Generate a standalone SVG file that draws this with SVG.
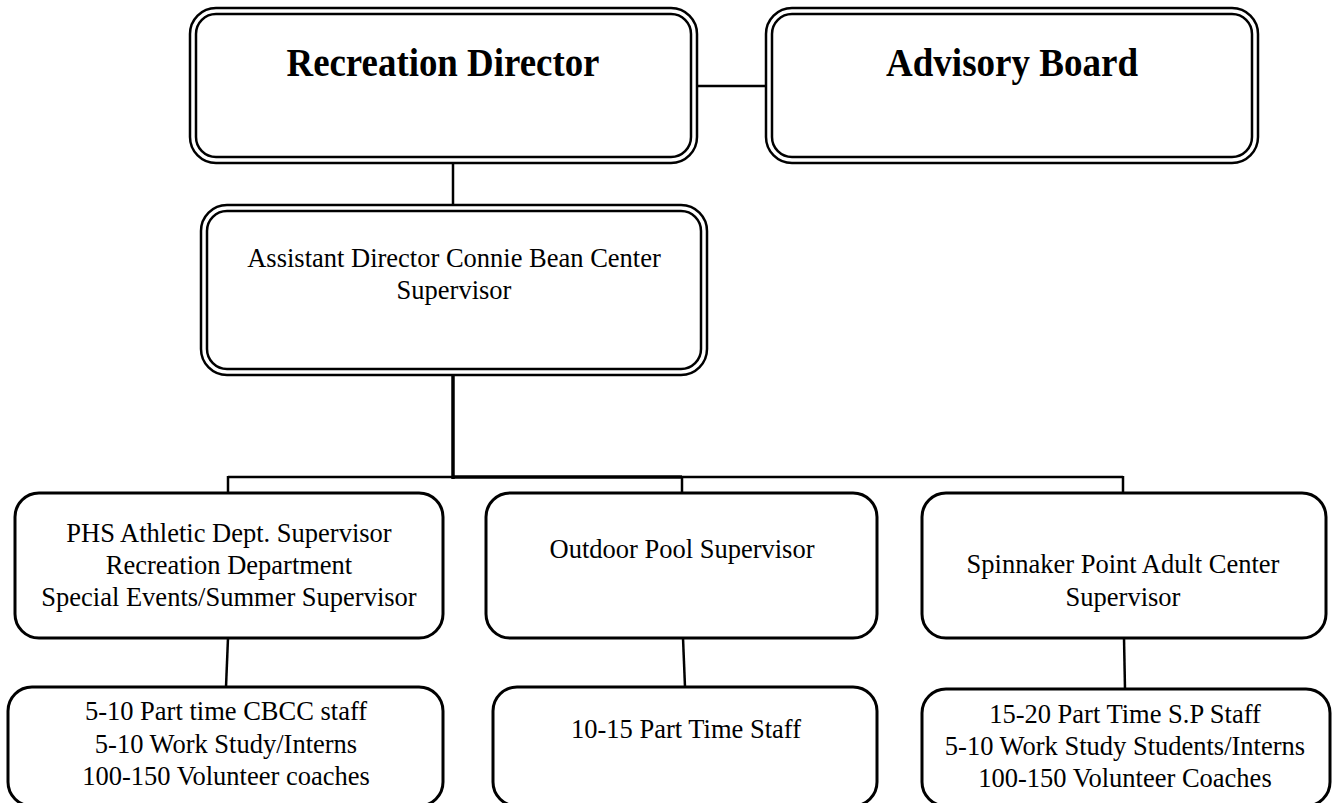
<svg xmlns="http://www.w3.org/2000/svg" width="1332" height="803" viewBox="0 0 1332 803">
<style>
.bg{fill:#ffffff}
.dbl{fill:none;stroke:#000;stroke-width:2.5}
.box{fill:#fff;stroke:#000;stroke-width:3}
.ln{fill:none;stroke:#000;stroke-width:2.5}
.thk{fill:none;stroke:#000;stroke-width:3.5}
.t{font-family:"Liberation Serif","Times New Roman",serif;font-size:26.5px;fill:#000;text-anchor:middle}
.b{font-family:"Liberation Serif","Times New Roman",serif;font-size:39px;font-weight:bold;fill:#000;text-anchor:middle}
</style>
<rect class="bg" x="0" y="0" width="1332" height="803"/>
<g id="connectors">
<line class="ln" x1="697" y1="86" x2="766" y2="86"/>
<line class="ln" x1="453" y1="163" x2="453" y2="205"/>
<line class="thk" x1="453" y1="375" x2="453" y2="479"/>
<line class="ln" x1="228" y1="477" x2="453" y2="477"/>
<line class="thk" x1="453" y1="477" x2="682" y2="477"/>
<line class="ln" x1="682" y1="477" x2="1123" y2="477"/>
<line class="ln" x1="228" y1="476" x2="228" y2="493"/>
<line class="ln" x1="682" y1="477" x2="682" y2="493"/>
<line class="ln" x1="1123" y1="476" x2="1123" y2="493"/>
<line class="ln" x1="228" y1="638" x2="226" y2="687"/>
<line class="ln" x1="683" y1="638" x2="685" y2="687"/>
<line class="ln" x1="1124" y1="638" x2="1125" y2="689"/>
</g>
<g id="recreation-director">
<rect class="dbl" x="190" y="8" width="507" height="155" rx="26"/>
<rect class="dbl" x="196" y="14" width="495" height="143" rx="20"/>
<text class="b" x="443" y="76" textLength="313" lengthAdjust="spacingAndGlyphs">Recreation Director</text>
</g>
<g id="advisory-board">
<rect class="dbl" x="766" y="8" width="492" height="155" rx="26"/>
<rect class="dbl" x="772" y="14" width="480" height="143" rx="20"/>
<text class="b" x="1012" y="76" textLength="252" lengthAdjust="spacingAndGlyphs">Advisory Board</text>
</g>
<g id="assistant-director">
<rect class="dbl" x="201" y="205" width="506" height="170" rx="26"/>
<rect class="dbl" x="207" y="211" width="494" height="158" rx="20"/>
<text class="t" x="454" y="267">Assistant Director Connie Bean Center</text>
<text class="t" x="454" y="299">Supervisor</text>
</g>
<g id="phs-athletic">
<rect class="box" x="15" y="493" width="428" height="145" rx="24"/>
<text class="t" x="229" y="542">PHS Athletic Dept. Supervisor</text>
<text class="t" x="229" y="574">Recreation Department</text>
<text class="t" x="229" y="606">Special Events/Summer Supervisor</text>
</g>
<g id="outdoor-pool">
<rect class="box" x="486" y="493" width="391" height="145" rx="24"/>
<text class="t" x="682" y="558">Outdoor Pool Supervisor</text>
</g>
<g id="spinnaker">
<rect class="box" x="922" y="493" width="404" height="145" rx="24"/>
<text class="t" x="1123" y="573">Spinnaker Point Adult Center</text>
<text class="t" x="1123" y="606">Supervisor</text>
</g>
<g id="cbcc-staff">
<rect class="box" x="8" y="687" width="435" height="119" rx="24"/>
<text class="t" x="226" y="720">5-10 Part time CBCC staff</text>
<text class="t" x="226" y="753">5-10 Work Study/Interns</text>
<text class="t" x="226" y="785">100-150 Volunteer coaches</text>
</g>
<g id="pool-staff">
<rect class="box" x="493" y="687" width="384" height="119" rx="24"/>
<text class="t" x="686" y="738">10-15 Part Time Staff</text>
</g>
<g id="sp-staff">
<rect class="box" x="922" y="689" width="408" height="117" rx="24"/>
<text class="t" x="1125" y="723">15-20 Part Time S.P Staff</text>
<text class="t" x="1125" y="755">5-10 Work Study Students/Interns</text>
<text class="t" x="1125" y="787">100-150 Volunteer Coaches</text>
</g>
</svg>
